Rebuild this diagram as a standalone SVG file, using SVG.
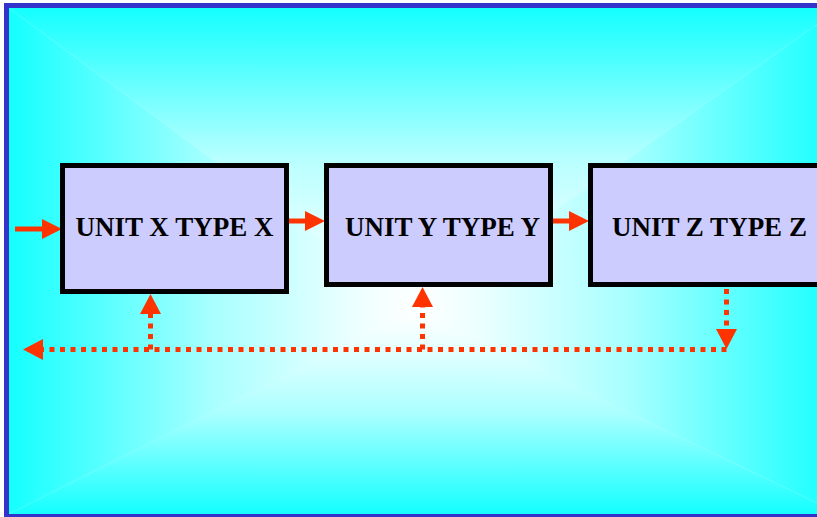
<svg xmlns="http://www.w3.org/2000/svg" width="817" height="517" viewBox="0 0 817 517">
  <defs>
    <linearGradient id="gTop" gradientUnits="userSpaceOnUse" x1="0" y1="8" x2="0" y2="310">
      <stop offset="0" stop-color="#14FFFF"/>
      <stop offset="0.5" stop-color="#B8FFFF"/>
      <stop offset="0.85" stop-color="#F0FFFF"/>
      <stop offset="1" stop-color="#FFFFFF"/>
    </linearGradient>
    <linearGradient id="gBot" gradientUnits="userSpaceOnUse" x1="0" y1="514" x2="0" y2="310">
      <stop offset="0" stop-color="#14FFFF"/>
      <stop offset="0.5" stop-color="#ACFFFF"/>
      <stop offset="0.85" stop-color="#ECFFFF"/>
      <stop offset="1" stop-color="#FFFFFF"/>
    </linearGradient>
    <linearGradient id="gLeft" gradientUnits="userSpaceOnUse" x1="9" y1="0" x2="415" y2="0">
      <stop offset="0" stop-color="#14FFFF"/>
      <stop offset="0.5" stop-color="#A8FFFF"/>
      <stop offset="0.85" stop-color="#ECFFFF"/>
      <stop offset="1" stop-color="#FFFFFF"/>
    </linearGradient>
    <linearGradient id="gRight" gradientUnits="userSpaceOnUse" x1="840" y1="0" x2="415" y2="0">
      <stop offset="0" stop-color="#14FFFF"/>
      <stop offset="0.5" stop-color="#A8FFFF"/>
      <stop offset="0.85" stop-color="#ECFFFF"/>
      <stop offset="1" stop-color="#FFFFFF"/>
    </linearGradient>
    <marker id="head" viewBox="0 0 20 20" markerUnits="userSpaceOnUse" markerWidth="20" markerHeight="20" refX="0" refY="10" orient="auto">
      <path d="M0,0 L20,10 L0,20 Z" fill="#FF3300"/>
    </marker>
    <marker id="headD" viewBox="0 0 20 21" markerUnits="userSpaceOnUse" markerWidth="20" markerHeight="21" refX="0" refY="10.5" orient="auto">
      <path d="M0,0 L20,10.5 L0,21 Z" fill="#FF3300"/>
    </marker>
  </defs>
  <style>
    .box { fill: #CCCCFF; stroke: #000000; stroke-width: 5; }
    .lbl { font-family: "Liberation Serif", "Times New Roman", serif; font-weight: bold; font-size: 27px; fill: #000000; text-anchor: middle; }
    .flow { fill: none; stroke: #FF3300; stroke-width: 5; marker-end: url(#head); }
    .fb { fill: none; stroke: #FF3300; stroke-width: 5; stroke-dasharray: 5 5.5; marker-end: url(#headD); }
  </style>

  <g id="background">
    <rect x="0" y="0" width="817" height="517" fill="#FFFFFF"/>
    <rect x="9" y="8" width="831" height="506" fill="#D8FFFF"/>
    <polygon points="9,8 840,8 415,310" fill="url(#gTop)"/>
    <polygon points="9,514 840,514 415,310" fill="url(#gBot)"/>
    <polygon points="9,8 9,514 415,310" fill="url(#gLeft)"/>
    <polygon points="840,8 840,514 415,310" fill="url(#gRight)"/>
    <rect x="6.5" y="5.5" width="840" height="511" fill="none" stroke="#3333CC" stroke-width="5"/>
  </g>

  <g id="connectors">
    <line class="flow" x1="15" y1="229" x2="42" y2="229"/>
    <line class="flow" x1="289" y1="221" x2="305" y2="221"/>
    <line class="flow" x1="553" y1="221" x2="569" y2="221"/>
    <line class="fb" x1="726.5" y1="289" x2="726.5" y2="329"/>
    <line class="fb" x1="726.5" y1="349.5" x2="43" y2="349.5"/>
    <line class="fb" x1="150.5" y1="349.5" x2="150.5" y2="314"/>
    <line class="fb" x1="422.5" y1="349.5" x2="422.5" y2="307"/>
  </g>

  <g id="unitX">
    <rect class="box" x="62.5" y="165.5" width="224" height="126"/>
    <text class="lbl" x="174.5" y="236">UNIT X TYPE X</text>
  </g>
  <g id="unitY">
    <rect class="box" x="326.5" y="165.5" width="224" height="119"/>
    <text class="lbl" x="442.5" y="236">UNIT Y TYPE Y</text>
  </g>
  <g id="unitZ">
    <rect class="box" x="590.5" y="165.5" width="240" height="119"/>
    <text class="lbl" x="709.5" y="236">UNIT Z TYPE Z</text>
  </g>
</svg>
